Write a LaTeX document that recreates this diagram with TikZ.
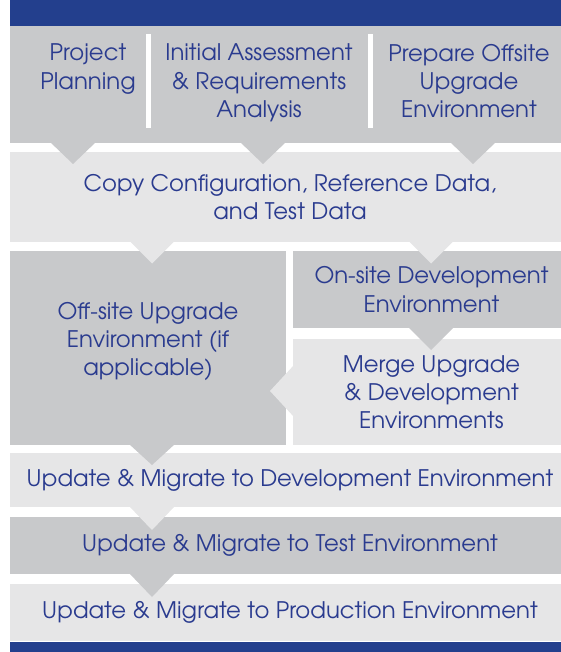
\documentclass[tikz,border=0pt]{standalone}
\usepackage{fontspec}
\setmainfont{texgyreadventor-regular.otf}
\usetikzlibrary{calc}
\definecolor{bandblue}{HTML}{233F8D}
\definecolor{darkg}{HTML}{C8C9CB}
\definecolor{lightg}{HTML}{E6E6E7}
\definecolor{txtblue}{HTML}{2A3B8F}
\tikzset{
  boxbase/.style={rectangle, inner sep=0pt, outer sep=0pt, anchor=north west,
    align=center, text=txtblue, font=\fontsize{22.8}{28.2}\selectfont},
  darkbox/.style={boxbase, fill=darkg},
  lightbox/.style={boxbase, fill=lightg},
  txt/.style={align=center, text=txtblue, font=\fontsize{22.8}{28.2}\selectfont,
    inner sep=0pt, outer sep=0pt, anchor=north},
}
% down-pointing tab: colour, point on source edge, depth
\newcommand\tabdown[3]{\fill[#1] ($#2+(-23,-1)$) -- ($#2+(23,-1)$) -- ($#2+(0,#3)$) -- cycle;}
\begin{document}
\begin{tikzpicture}[x=1pt,y=-1pt]
\useasboundingbox (0,0) rectangle (561,652);
\clip (0,0) rectangle (561,652);
% column coordinates
\coordinate (c1) at (73,0);
\coordinate (c2) at (263,0);
\coordinate (c3) at (473,0);
\coordinate (cl) at (152,0);
\coordinate (cr) at (431,0);
\coordinate (ml) at (0,391);
% bands
\fill[bandblue] (10,0) rectangle (570,26);
\fill[bandblue] (10,642) rectangle (570,652);
% boxes
\node[darkbox, minimum width=560pt, minimum height=117pt] (toprow) at (10,26) {};
\node[lightbox, minimum width=560pt, minimum height=89.5pt] (copy) at (10,152)
  {Copy Configuration, Reference Data,\\and Test Data};
\node[darkbox, minimum width=276pt, minimum height=194pt] (off) at (10,251) {};
\node[darkbox, minimum width=277pt, minimum height=77pt] (onsite) at (293,251)
  {On-site Development\\Environment};
\node[lightbox, minimum width=277pt, minimum height=106pt] (merge) at (293,339)
  {Merge Upgrade\\\& Development\\Environments};
\node[lightbox, minimum width=560pt, minimum height=54pt] (updev) at (10,453)
  {Update \& Migrate to Development Environment};
\node[darkbox, minimum width=560pt, minimum height=57pt] (test) at (10,517)
  {Update \& Migrate to Test Environment};
\node[lightbox, minimum width=560pt, minimum height=57pt] (prod) at (10,584)
  {Update \& Migrate to Production Environment};
% top row dividers and texts
\fill[white] (146,34) rectangle (151,128);
\fill[white] (368,34) rectangle (373,128);
\node[txt] (p1) at (88,44) {Project\\Planning};
\node[txt] (p2) at (259,44) {Initial Assessment\\\& Requirements\\Analysis};
\node[txt] (p3) at (469,44) {Prepare Offsite\\Upgrade\\Environment};
\node[txt] (offtxt) at (148,302) {Off-site Upgrade\\Environment (if\\applicable)};
% tabs (connectors)
\tabdown{darkg}{(c1 |- toprow.south)}{21}
\tabdown{darkg}{(c2 |- toprow.south)}{21}
\tabdown{darkg}{(c3 |- toprow.south)}{21}
\tabdown{lightg}{(cl |- copy.south)}{22}
\tabdown{lightg}{(cr |- copy.south)}{22}
\tabdown{darkg}{(cr |- onsite.south)}{22}
\tabdown{darkg}{(cl |- off.south)}{20}
\tabdown{lightg}{(cl |- updev.south)}{23}
\tabdown{darkg}{(cl |- test.south)}{23}
\fill[lightg] ($(merge.west |- ml)+(1,-26)$) -- ($(merge.west |- ml)+(1,26)$)
  -- ($(merge.west |- ml)+(-23,0)$) -- cycle;
\end{tikzpicture}
\end{document}
